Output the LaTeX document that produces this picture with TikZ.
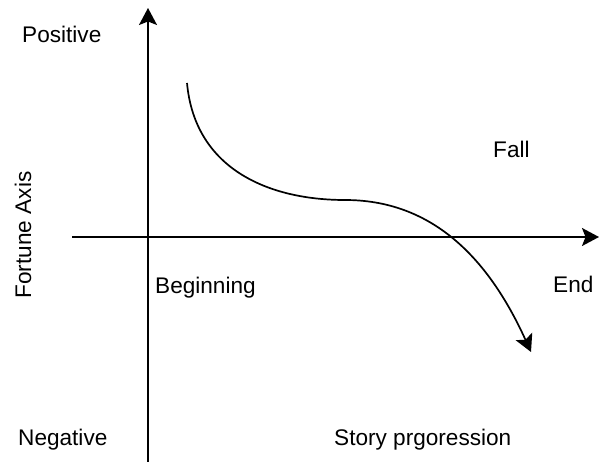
\documentclass[tikz,border=0pt]{standalone}
\usepackage{fontspec}
\setmainfont{Liberation Sans}
\usetikzlibrary{arrows.meta}
\begin{document}
\begin{tikzpicture}[x=1pt,y=-1pt,
  tip/.style={-{Stealth[length=17pt,width=18pt,inset=3.5pt]}},
  axis/.style={line width=1.7pt,tip},
  lbl/.style={inner sep=0pt,anchor=base west,font=\fontsize{22.6}{27}\selectfont}]
\useasboundingbox (0,0) rectangle (599,462);
\coordinate (vb) at (148,462);
\coordinate (vt) at (148,8);
\coordinate (hl) at (72,237);
\coordinate (hr) at (599,237);
\coordinate (c0) at (187,83);
\coordinate (c1) at (345,200);
\coordinate (c2) at (531,352);
\draw[axis] (vb) -- (vt);
\draw[axis] (hl) -- (hr);
\draw[axis]
  (c0) .. controls (195,170) and (270,200) .. (c1)
       .. controls (430,200) and (487,255) .. (c2);
\node[lbl] (pos) at (22,43) {Positive};
\node[lbl] (neg) at (18,445) {Negative};
\node[lbl] (beg) at (155,293) {Beginning};
\node[lbl] (end) at (553,292) {End};
\node[lbl] (fall) at (493,158) {Fall};
\node[lbl] (story) at (334,445) {Story prgoression};
\node[inner sep=0pt,anchor=base,rotate=90,font=\fontsize{22.6}{27}\selectfont] (fort) at (31,235) {Fortune Axis};
\end{tikzpicture}
\end{document}
